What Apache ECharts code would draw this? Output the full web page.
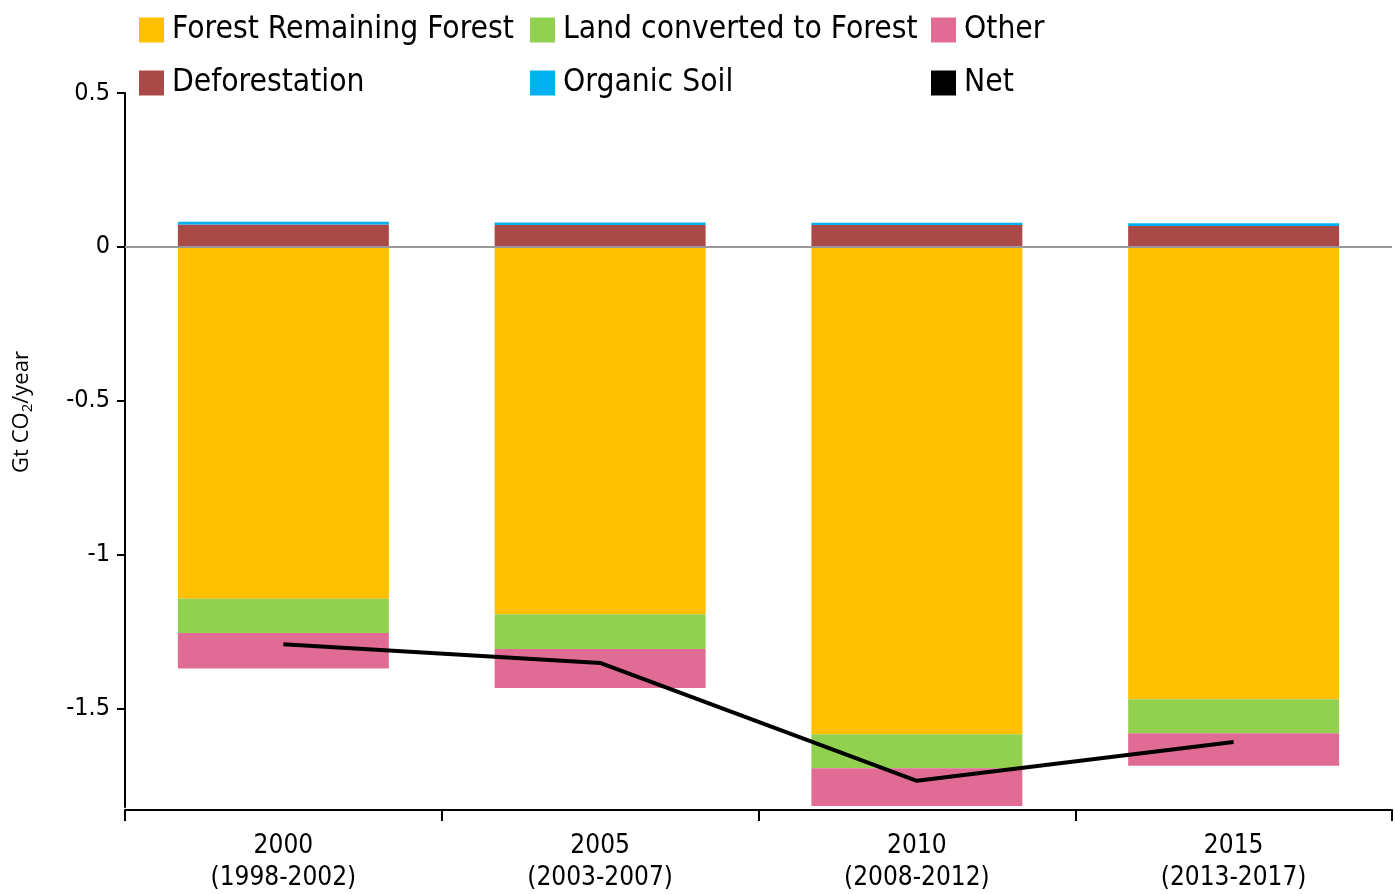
<!DOCTYPE html>
<html>
<head>
<meta charset="utf-8">
<script src="https://cdn.jsdelivr.net/npm/echarts@6/dist/echarts.min.js"></script>
<style>html,body{margin:0;padding:0;background:#fff;}#c{width:1395px;height:894px;}</style>
</head>
<body>
<div id="c"></div>
<script>
const categories = ['2000\n(1998-2002)', '2005\n(2003-2007)', '2010\n(2008-2012)', '2015\n(2013-2017)'];
const forestRemaining = [-1.143, -1.194, -1.584, -1.470];
const landConverted = [-0.112, -0.113, -0.110, -0.110];
const other = [-0.115, -0.126, -0.123, -0.106];
const deforestation = [0.073, 0.071, 0.071, 0.068];
const organicSoil = [0.009, 0.008, 0.007, 0.009];
const net = [-1.291, -1.352, -1.735, -1.609];
const yTicks = [-1.5, -1, -0.5, 0, 0.5];

const FONT = 'DejaVu Sans Condensed';
const chart = echarts.init(document.getElementById('c'));

function legendAt(name, left, top) {
  return {
    data: [name], left: left, top: top, icon: 'rect', itemWidth: 25, itemHeight: 25,
    itemGap: 0, padding: 0,
    textStyle: { fontFamily: FONT, fontSize: 31.5, color: '#000', padding: [0, 0, 0, 3] },
    selectedMode: false
  };
}

chart.setOption({
  animation: false,
  legend: [
    legendAt('Forest Remaining Forest', 139, 14),
    legendAt('Land converted to Forest', 530, 14),
    legendAt('Other', 931, 14),
    legendAt('Deforestation', 139, 67),
    legendAt('Organic Soil', 530, 67),
    legendAt('Net', 931, 67)
  ],
  graphic: [{
    type: 'text', x: 22, y: 412, rotation: Math.PI / 2,
    style: {
      text: '{a|Gt CO}{s|2}{a|/year}', align: 'center', verticalAlign: 'middle',
      rich: {
        a: { fontFamily: 'Open Sans', fontSize: 22, fill: '#000' },
        s: { fontFamily: 'Open Sans', fontSize: 15, fill: '#000', padding: [12, 0, 0, 0] }
      }
    }
  }],
  grid: { left: 125, right: 3, top: 93, bottom: 82, containLabel: false },
  xAxis: {
    type: 'category', data: categories, boundaryGap: true, offset: 3,
    axisLine: { onZero: false, lineStyle: { color: '#000', width: 2 } },
    axisTick: { show: true, length: 11, alignWithLabel: false, lineStyle: { color: '#000', width: 2 } },
    axisLabel: { fontFamily: FONT, fontSize: 26, color: '#000', lineHeight: 32, margin: 20 }
  },
  yAxis: {
    type: 'value', min: -1.82, max: 0.5,
    axisLine: { show: true, lineStyle: { color: '#000', width: 2 } },
    axisTick: { show: true, length: 8, customValues: yTicks, lineStyle: { color: '#000', width: 2 } },
    axisLabel: { customValues: yTicks, fontFamily: FONT, fontSize: 25, color: '#000', margin: 15 },
    splitLine: { show: false }
  },
  series: [
    { name: 'Forest Remaining Forest', type: 'bar', stack: 'a', data: forestRemaining, itemStyle: { color: '#FFC000' }, barWidth: '66.6%',
      markLine: { silent: true, symbol: 'none', label: { show: false }, lineStyle: { color: '#999', width: 2, type: 'solid' }, data: [{ yAxis: 0 }] } },
    { name: 'Land converted to Forest', type: 'bar', stack: 'a', data: landConverted, itemStyle: { color: '#92D050' } },
    { name: 'Other', type: 'bar', stack: 'a', data: other, itemStyle: { color: '#E06C96' } },
    { name: 'Deforestation', type: 'bar', stack: 'a', data: deforestation, itemStyle: { color: '#AA4A48' } },
    { name: 'Organic Soil', type: 'bar', stack: 'a', data: organicSoil, itemStyle: { color: '#00B0F0' } },
    { name: 'Net', type: 'line', data: net, symbol: 'none', lineStyle: { color: '#000', width: 4 }, itemStyle: { color: '#000' }, z: 5 }
  ]
});
</script>
</body>
</html>
